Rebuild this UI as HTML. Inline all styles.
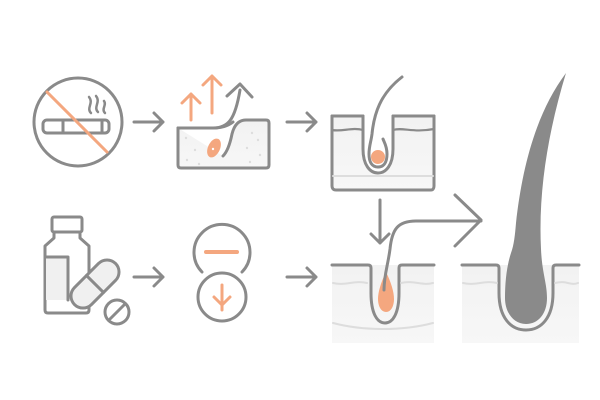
<!DOCTYPE html>
<html><head><meta charset="utf-8"><style>html,body{margin:0;padding:0;background:#fff;width:600px;height:400px;overflow:hidden}</style></head>
<body>
<svg width="600" height="400" viewBox="0 0 600 400" xmlns="http://www.w3.org/2000/svg">
<defs>
<linearGradient id="bg" x1="0" y1="0" x2="0" y2="1"><stop offset="0" stop-color="#f2f2f2"/><stop offset="1" stop-color="#f7f7f7"/></linearGradient>
</defs>
<g fill="none" stroke="#8a8a8a" stroke-width="3" stroke-linecap="round" stroke-linejoin="round">
<!-- no smoking -->
<circle cx="78" cy="122" r="44"/>
<rect x="43" y="120" width="66" height="13" rx="4"/>
<line x1="63" y1="120" x2="63" y2="133"/>
<line x1="102" y1="120" x2="102" y2="133"/>
<path d="M91 113c-5-5 3-10-2-16M98 112c-5-5 3-10-2-16M105 113c-4-4 2-8-1-12" stroke-width="2.5"/>
<line x1="47" y1="92" x2="107" y2="152" stroke="#f4a77f"/>
<!-- arrows row 1 -->
<path d="M134 122h29M154 113l9 9-9 9"/>
<path d="M287 122h29M307 113l9 9-9 9"/>
<!-- skin block -->
<path d="M178 128h35c15 0 22-8 27-38" />
<path d="M227 96l13-12 12 13"/>
<path d="M178 128v37c0 2 1 3 3 3h85c2 0 3-1 3-3v-42c0-2-1-3-3-3h-20c-8 0-12 6-14 14c-2 10-5 18-9 22" fill="url(#bg)"/>
<path d="M178 128h35c8 0 15-2 20-6" fill="none"/>
<g stroke="#f4a77f"><path d="M191 120V94M182 103l9-9 9 9M212 113V76M203 85l9-9 9 9"/></g>
<ellipse cx="214" cy="148" rx="6" ry="10" transform="rotate(25 214 148)" fill="#f4a77f" stroke="none"/>
<circle cx="213" cy="149" r="1.2" fill="#fff" stroke="none"/>
<g fill="#ddd" stroke="none"><circle cx="186" cy="138" r="1.2"/><circle cx="195" cy="150" r="1.2"/><circle cx="187" cy="160" r="1.2"/><circle cx="252" cy="133" r="1.2"/><circle cx="258" cy="140" r="1.2"/><circle cx="247" cy="148" r="1.2"/><circle cx="260" cy="155" r="1.2"/><circle cx="250" cy="162" r="1.2"/><circle cx="199" cy="164" r="1.2"/></g>
<!-- top follicle box -->
<path d="M332 116v70c0 2 1 4 4 4h95c2 0 3-2 3-4v-70" fill="url(#bg)"/>
<path d="M332 116h31M393 116h41"/>
<path d="M332 130c10 2 20-3 31 0M393 130c10-3 20 3 41-1" stroke-width="2.2"/>
<line x1="333" y1="176" x2="433" y2="176" stroke="#ddd" stroke-width="2"/>
<path d="M363 116v33c0 16 7 24 15 24s15-8 15-24v-33" fill="#fff"/>
<path d="M378 167c-6 0-9-5-9-13c0-8 2-12 3-20c2-20 8-40 30-57" stroke-width="3"/>
<path d="M378 167c6 0 9-5 9-13c0-8-3-12-4-15" stroke-width="3"/>
<circle cx="378" cy="157" r="7" fill="#f4a77f" stroke="none"/>
<!-- down arrow -->
<path d="M380 200v43M371 234l9 9 9-9"/>
<!-- bottom-left box -->
<rect x="332" y="265" width="102" height="78" fill="url(#bg)" stroke="none"/>
<path d="M332 265h36c2 0 3 1 3 3v25c0 20 6 30 14 30s14-10 14-30v-25c0-2 1-3 3-3h32"/>
<path d="M333 283c12 3 22-3 34 0M401 283c12-3 22 3 32 0M333 323c30 8 70 8 100 0" stroke="#ddd" stroke-width="2"/>
<path d="M386 272c-5 10-8 20-8 27c0 7 3 13 8 13s8-6 8-13c0-7-3-17-8-27z" fill="#f4a77f" stroke="none"/>
<path d="M384 290c0-15 4-25 6-41c2-20 8-28 26-28h65"/>
<path d="M455 195l26 25-26 26"/>
<!-- right box -->
<rect x="462" y="265" width="117" height="78" fill="url(#bg)" stroke="none"/>
<path d="M462 265h34c2 0 3 1 3 3v25c0 25 12 37 27 37s27-12 27-37v-25c0-2 1-3 3-3h23"/>
<path d="M463 283c12 3 22-3 34 0M555 283c12-3 15 3 23 0" stroke="#ddd" stroke-width="2"/>
<path d="M505 298c0 15 9 26 21 26s21-10 21-26c0-15-5-25-6-49c-3-60 8-120 25-176c-30 40-44 95-50 150c-1 12-2 22-5 30c-4 12-6 28-6 45z" fill="#8a8a8a" stroke="none"/>
<!-- pills -->
<rect x="52" y="217" width="30" height="15" rx="2"/>
<path d="M54 232v6l-9 8v64c0 2 1 3 3 3h38c2 0 3-1 3-3v-64l-9-8v-6"/>
<rect x="46" y="257" width="22" height="43" fill="#f0f0f0" stroke="none"/>
<path d="M46 257h22v43"/>
<g transform="rotate(-45 95 284)"><rect x="66" y="272" width="58" height="24" rx="12" fill="#f0f0f0"/><line x1="95" y1="272" x2="95" y2="296"/></g>
<circle cx="117" cy="312" r="12" fill="#fff"/>
<line x1="110" y1="319" x2="124" y2="305"/>
<path d="M134 277h29M154 268l9 9-9 9"/>
<path d="M287 277h29M307 268l9 9-9 9"/>
<path d="M202 272a28 28 0 1 1 40 0"/>
<line x1="206" y1="252" x2="237" y2="252" stroke="#f4a77f" stroke-width="4"/>
<circle cx="222" cy="297" r="24"/>
<path d="M222 285v25M214 297l8 8 8-8" stroke="#f4a77f"/>
</g>
</svg>
</body></html>
